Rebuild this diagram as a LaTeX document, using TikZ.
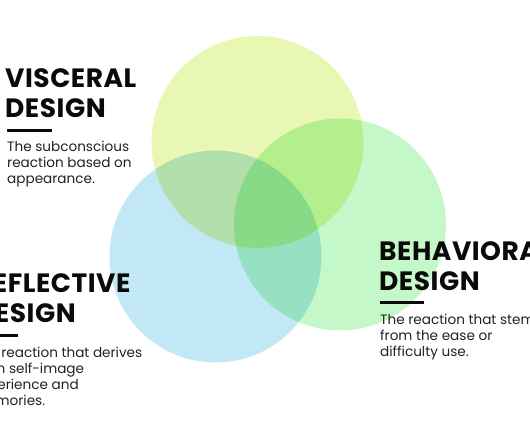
\documentclass[tikz,border=0pt]{standalone}
\usepackage{fontspec}
\setmainfont{Poppins}
\usepackage{tikz}
\usetikzlibrary{positioning}
\usepackage{xcolor}
\definecolor{visceralfill}{HTML}{E9F7B4}
\definecolor{reflectivefill}{HTML}{C3E8F5}
\definecolor{behavioralfill}{HTML}{C4F8C9}
\definecolor{inkblack}{HTML}{0A0A0A}

\begin{document}
\begin{tikzpicture}[
    x=1pt, y=-1pt,
    disc/.style={circle, minimum size=212pt, inner sep=0pt},
    heading/.style={anchor=base west, inner sep=0pt, align=left, text=inkblack,
        font=\fontsize{26.5}{30}\selectfont\bfseries\addfontfeatures{LetterSpace=2}},
    body/.style={anchor=base west, inner sep=0pt, align=left, text=inkblack!90,
        font=\fontsize{13.6}{16}\selectfont},
    bar/.style={line width=3pt, inkblack}
]

% Frame
\path[use as bounding box, clip] (0,0) rectangle (530,442);

% Circles
\begin{scope}[blend group=multiply]
\node[disc, fill=visceralfill] (visceral) at (257.5,142) {};
\node[disc, fill=behavioralfill] (behavioral) at (340,224.5) {};
\node[disc, fill=reflectivefill] (reflective) at (215.5,256.5) {};
\end{scope}

% Visceral
\node[heading] (visceralTitle) at (5,117) {VISCERAL\\DESIGN};
\draw[bar] (7,130) -- (52,130);
\node[body] (visceralText) at (7,183) {The subconscious\\reaction based on\\appearance.};

% Reflective
\node[heading] (reflectiveTitle) at (-25,322) {REFLECTIVE\\DESIGN};
\draw[bar] (-27,335) -- (18,335);
\node[body] (reflectiveText) at (-27,405) {The reaction that derives\\from self-image\\experience and\\memories.};

% Behavioral
\node[heading] (behavioralTitle) at (379,290) {BEHAVIORAL\\DESIGN};
\draw[bar] (380,302) -- (424,302);
\node[body] (behavioralText) at (380,356) {The reaction that stems\\from the ease or\\difficulty use.};

\end{tikzpicture}
\end{document}
